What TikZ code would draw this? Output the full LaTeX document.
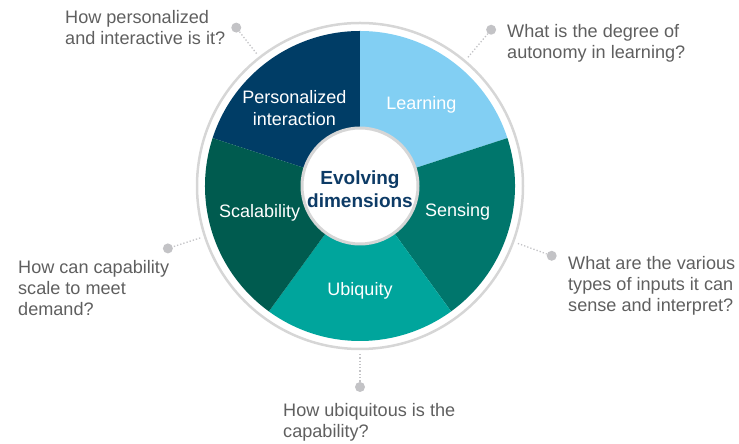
\documentclass[tikz,border=0pt]{standalone}
\usepackage{fontspec}
\setmainfont{Liberation Sans}
\usepackage{tikz}

\definecolor{navyseg}{RGB}{0,61,102}
\definecolor{learnseg}{RGB}{130,207,243}
\definecolor{senseseg}{RGB}{0,118,108}
\definecolor{ubiqseg}{RGB}{0,165,156}
\definecolor{scalseg}{RGB}{0,91,79}
\definecolor{coretext}{RGB}{13,59,102}
\definecolor{qgray}{RGB}{95,95,95}
\definecolor{dotgray}{RGB}{195,195,198}
\definecolor{ringgray}{RGB}{214,214,214}

\begin{document}
\begin{tikzpicture}[x=1pt,y=1pt,
  seglabel/.style={white,font=\fontsize{18}{21.5}\selectfont,align=center},
  question/.style={anchor=north west,inner sep=0pt,text=qgray,font=\fontsize{18.1}{21.3}\selectfont,align=left},
  qdot/.style={circle,fill=dotgray,inner sep=0pt,minimum size=10pt},
  dotline/.style={dotgray,dotted,line width=1.3pt}]
\useasboundingbox (0,0) rectangle (739,444);
\begin{scope}[shift={(360,258)}]
% wedges
\fill[navyseg] (0,0) -- (90:155pt) arc[start angle=90,end angle=162,radius=155pt] -- cycle;
\fill[learnseg] (0,0) -- (18:155pt) arc[start angle=18,end angle=90,radius=155pt] -- cycle;
\fill[senseseg] (0,0) -- (-54:155pt) arc[start angle=-54,end angle=18,radius=155pt] -- cycle;
\fill[ubiqseg] (0,0) -- (-126:155pt) arc[start angle=-126,end angle=-54,radius=155pt] -- cycle;
\fill[scalseg] (0,0) -- (162:155pt) arc[start angle=162,end angle=234,radius=155pt] -- cycle;
\draw[ringgray,line width=2.5pt] (0,0) circle (163pt);
\node[circle,fill=white,draw=ringgray,line width=3pt,minimum size=116pt,inner sep=0pt] (core) at (0,0) {};
\node[align=center,text=coretext,font=\bfseries\fontsize{19}{23}\selectfont] (coretitle) at (0,-3) {Evolving\\dimensions};
% segment labels
\node[seglabel] (pers) at (130:102pt) {Personalized\\interaction};
\node[seglabel] (learn) at (53:102pt) {Learning};
\node[seglabel] (sens) at (-15:101pt) {Sensing};
\node[seglabel] (ubiq) at (-90:105pt) {Ubiquity};
\node[seglabel] (scal) at (195:104pt) {Scalability};
% dots and dotted leaders
\node[qdot] (dpers) at (128:201pt) {};
\node[qdot] (dlearn) at (50:204pt) {};
\node[qdot] (dsens) at (-20:204pt) {};
\node[qdot] (dubiq) at (-90:201pt) {};
\node[qdot] (dscal) at (198:202pt) {};
\coordinate (epers) at (128:168pt);
\coordinate (elearn) at (50:168pt);
\coordinate (esens) at (-20:168pt);
\coordinate (eubiq) at (-90:168pt);
\coordinate (escal) at (198:168pt);
\draw[dotline] (epers) -- (dpers);
\draw[dotline] (elearn) -- (dlearn);
\draw[dotline] (esens) -- (dsens);
\draw[dotline] (eubiq) -- (dubiq);
\draw[dotline] (escal) -- (dscal);
\end{scope}
% questions
\node[question] (qpers) at (65,434) {How personalized\\and interactive is it?};
\node[question] (qlearn) at (507,420) {What is the degree of\\autonomy in learning?};
\node[question] (qsens) at (568,188) {What are the various\\types of inputs it can\\sense and interpret?};
\node[question] (qscal) at (18,184) {How can capability\\scale to meet\\demand?};
\node[question] (qubiq) at (283,41) {How ubiquitous is the\\capability?};
\end{tikzpicture}
\end{document}
